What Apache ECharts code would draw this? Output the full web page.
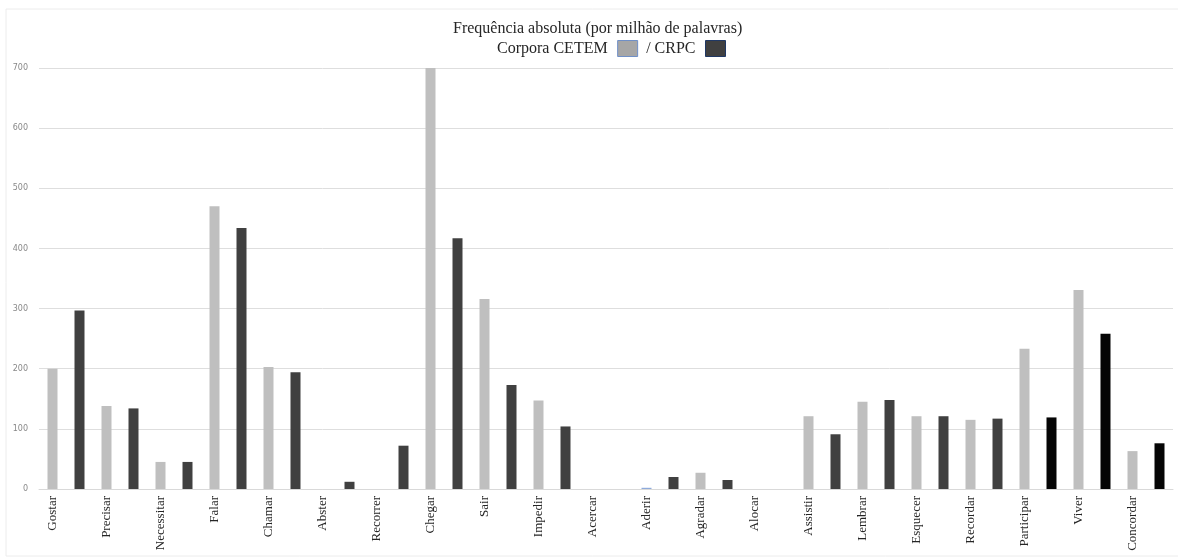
<!DOCTYPE html>
<html>
<head>
<meta charset="utf-8">
<script src="https://cdn.jsdelivr.net/npm/echarts@6/dist/echarts.min.js"></script>
<style>html,body{margin:0;padding:0;background:#fff;}#c{width:1178px;height:559px;}</style>
</head>
<body>
<div id="c"></div>
<script>
const verbs = ['Gostar','Precisar','Necessitar','Falar','Chamar','Abster','Recorrer','Chegar','Sair','Impedir','Acercar','Aderir','Agradar','Alocar','Assistir','Lembrar','Esquecer','Recordar','Participar','Viver','Concordar'];
const cetem = [200,138,45,470,203,0,0,700,316,147,0,2,27,0,121,145,121,115,233,331,63];
const crpc  = [297,134,45,434,194,12,72,417,173,104,0,20,15,0,91,148,121,117,119,258,76];
const yTicks = [0,100,200,300,400,500,600,700];

const slots = [];
const cetemData = [];
const crpcData = [];
verbs.forEach((v, i) => {
  slots.push(v, v + ' (CRPC)');
  cetemData.push({value: cetem[i], itemStyle: {color: v === 'Aderir' ? '#8eaadb' : '#bfbfbf'}});
  cetemData.push(null);
  crpcData.push(null);
  crpcData.push({value: crpc[i], itemStyle: {color: i >= 18 ? '#050505' : '#404040'}});
});

const chart = echarts.init(document.getElementById('c'), null, {renderer: 'canvas'});
chart.setOption({
  animation: false,
  backgroundColor: '#fff',
  graphic: [
    {type: 'rect', shape: {x: 6, y: 9, width: 1190, height: 547}, style: {fill: 'none', stroke: '#ececec', lineWidth: 1}, z: -1},
    {type: 'text', left: 453, top: 21, style: {text: 'Frequência absoluta (por milhão de palavras)', font: '16px "Liberation Serif"', fill: '#262626'}}
  ],
  legend: {
    top: 35,
    left: 492,
    align: 'right',
    itemWidth: 20,
    itemHeight: 16,
    itemGap: 8,
    icon: 'rect',
    textStyle: {fontFamily: 'Liberation Serif', fontSize: 16, color: '#262626', padding: [0, 5, 0, 0]},
    data: [
      {name: 'Corpora CETEM', itemStyle: {color: '#a6a6a6', borderColor: '#6f8fc7', borderWidth: 1}},
      {name: '/ CRPC', itemStyle: {color: '#404040', borderColor: '#203864', borderWidth: 1}}
    ]
  },
  grid: {left: 39, right: 5, top: 68, bottom: 70, containLabel: false},
  xAxis: {
    type: 'category',
    data: slots,
    axisLine: {show: true, lineStyle: {color: '#d9d9d9'}},
    axisTick: {show: false},
    axisLabel: {
      interval: 0,
      rotate: 90,
      margin: 7,
      fontFamily: 'Liberation Serif',
      fontSize: 13,
      color: '#262626',
      formatter: (v, i) => (i % 2 === 0 ? v : '')
    }
  },
  yAxis: {
    type: 'value',
    min: yTicks[0],
    max: yTicks[yTicks.length - 1],
    interval: 100,
    axisLine: {show: false},
    axisTick: {show: false},
    splitLine: {lineStyle: {color: '#dedede'}},
    axisLabel: {fontFamily: 'DejaVu Sans', fontSize: 8, color: '#888', margin: 11}
  },
  series: [
    {name: 'Corpora CETEM', type: 'bar', data: cetemData, barWidth: 10, barGap: '-100%', itemStyle: {color: '#bfbfbf'}},
    {name: '/ CRPC', type: 'bar', data: crpcData, barWidth: 10, barGap: '-100%', itemStyle: {color: '#404040'}}
  ]
});
</script>
</body>
</html>
